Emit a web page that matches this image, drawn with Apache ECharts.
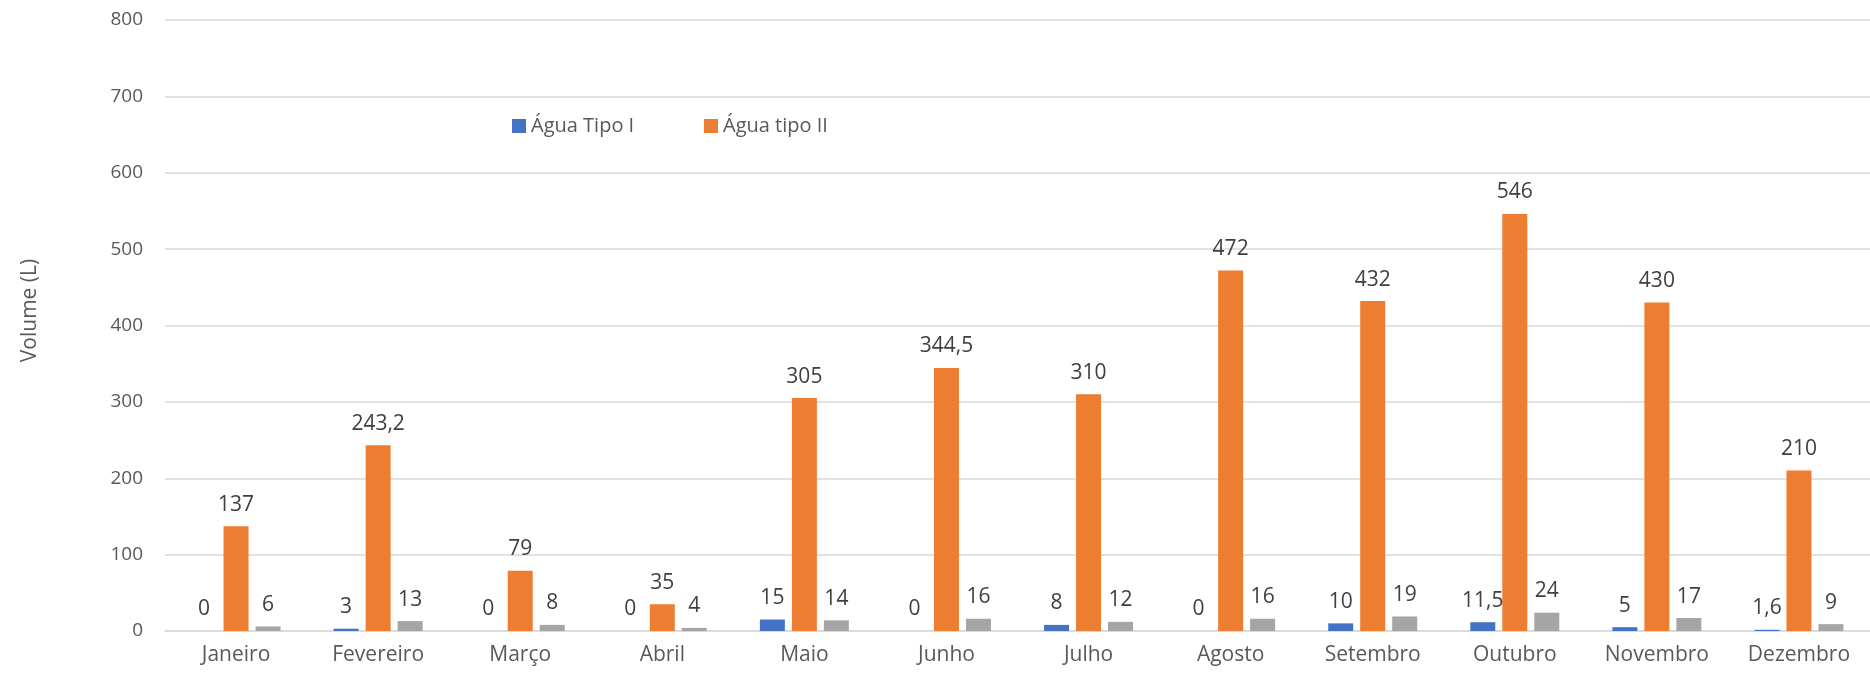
<!DOCTYPE html>
<html>
<head>
<meta charset="utf-8">
<script src="https://cdn.jsdelivr.net/npm/echarts@6/dist/echarts.min.js"></script>
<style>
html,body{margin:0;padding:0;background:#fff;}
#c{width:1870px;height:674px;}
</style>
</head>
<body>
<div id="c"></div>
<script>
const categories = ['Janeiro','Fevereiro','Março','Abril','Maio','Junho','Julho','Agosto','Setembro','Outubro','Novembro','Dezembro'];
const aguaTipoI = [0, 3, 0, 0, 15, 0, 8, 0, 10, 11.5, 5, 1.6];
const aguaTipoII = [137, 243.2, 79, 35, 305, 344.5, 310, 472, 432, 546, 430, 210];
const aguaTipoIII = [6, 13, 8, 4, 14, 16, 12, 16, 19, 24, 17, 9];
const seriesNames = ['Água Tipo I', 'Água tipo II', 'Água tipo III'];

const FONT = '"Open Sans", Lato, sans-serif';
const chart = echarts.init(document.getElementById('c'));
const lbl = {
  show: true, position: 'top', distance: 11,
  color: '#404040', fontSize: 21, fontFamily: FONT,
  formatter: p => String(p.value).replace('.', ',')
};
function mk(name, data, color) {
  return {
    name, type: 'bar', data, barWidth: 25, barGap: '28%',
    itemStyle: { color }, label: lbl, animation: false
  };
}
const legendText = { color: '#595959', fontSize: 20, fontFamily: FONT };
chart.setOption({
  animation: false,
  textStyle: { fontFamily: FONT },
  legend: [
    { data: [seriesNames[0]], left: 512, top: 116, padding: 0, icon: 'rect', itemWidth: 14, itemHeight: 14, itemGap: 5,
      textStyle: legendText },
    { data: [seriesNames[1]], left: 704, top: 116, padding: 0, icon: 'rect', itemWidth: 14, itemHeight: 14, itemGap: 5,
      textStyle: legendText }
  ],
  grid: { left: 165, top: 20, width: 1728, height: 611, containLabel: false },
  xAxis: {
    type: 'category', data: categories,
    axisLine: { lineStyle: { color: '#d9d9d9', width: 1.5 } },
    axisTick: { show: false },
    axisLabel: { color: '#595959', fontSize: 21, fontFamily: FONT, margin: 14, interval: 0 }
  },
  yAxis: {
    type: 'value', min: 0, max: 800, interval: 100,
    name: 'Volume (L)', nameLocation: 'middle', nameRotate: 90, nameGap: 124,
    nameTextStyle: { color: '#595959', fontSize: 21, fontFamily: FONT, padding: [0, 0, 0, 30] },
    axisLine: { show: false }, axisTick: { show: false },
    axisLabel: { color: '#595959', fontSize: 19, fontFamily: FONT, margin: 22 },
    splitLine: { lineStyle: { color: '#d9d9d9', width: 1.5 } }
  },
  series: [
    mk(seriesNames[0], aguaTipoI, '#4472c4'),
    mk(seriesNames[1], aguaTipoII, '#ed7d31'),
    mk(seriesNames[2], aguaTipoIII, '#a5a5a5')
  ]
});
</script>
</body>
</html>
